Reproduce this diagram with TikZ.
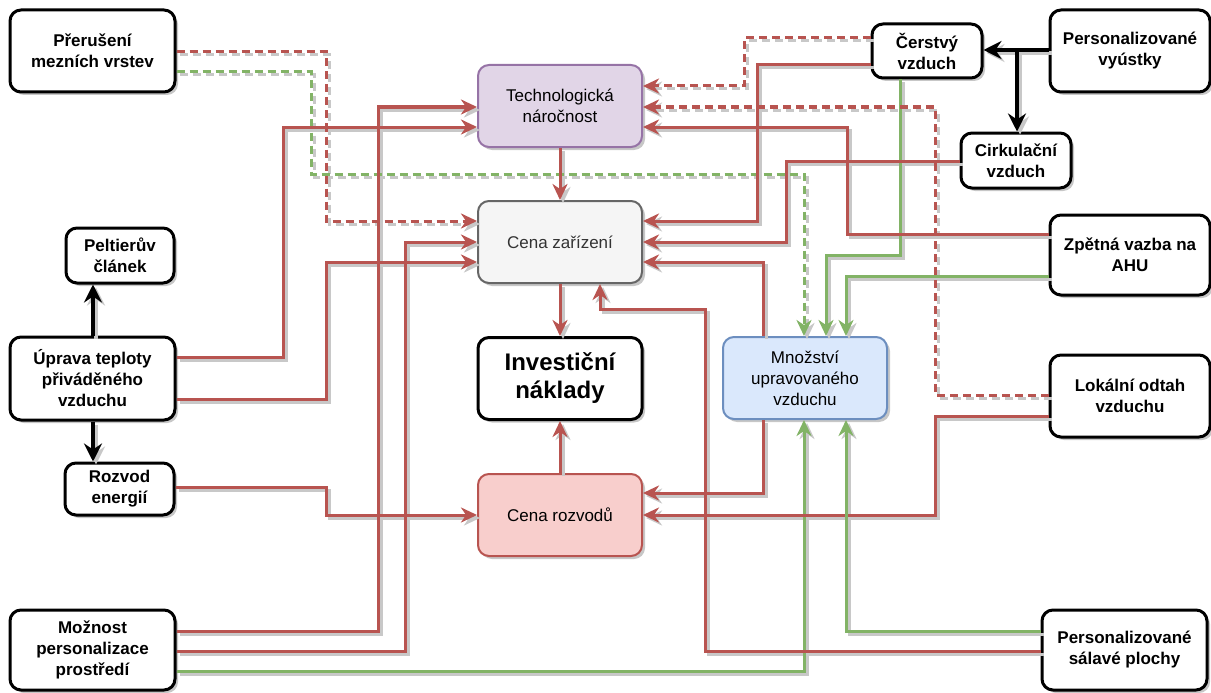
\documentclass[tikz,border=0pt]{standalone}
\usepackage{fontspec}
\setmainfont{Liberation Sans}
\usetikzlibrary{arrows.meta,shadows}
\definecolor{redE}{HTML}{B85450}
\definecolor{greenE}{HTML}{82B366}
\definecolor{purF}{HTML}{E1D5E7}
\definecolor{purD}{HTML}{9673A6}
\definecolor{greyF}{HTML}{F5F5F5}
\definecolor{greyD}{HTML}{666666}
\definecolor{greyT}{HTML}{333333}
\definecolor{redF}{HTML}{F8CECC}
\definecolor{bluF}{HTML}{DAE8FC}
\definecolor{bluD}{HTML}{6C8EBF}
\definecolor{shadowC}{HTML}{C8C8C8}
\tikzset{
  x=1pt, y=-1pt,
  shd/.style={drop shadow={shadow xshift=3pt, shadow yshift=-3pt, fill=black, opacity=0.22}},
  obox/.style={draw=black, line width=3pt, rounded corners=11pt, fill=white, align=center,
    inner sep=0pt, font=\bfseries\fontsize{17}{21}\selectfont, shd},
  cbox/.style={line width=2pt, rounded corners=11pt, align=center, inner sep=0pt,
    minimum width=164pt, minimum height=82pt, font=\fontsize{17}{21}\selectfont, shd},
  tipR/.style={-{Stealth[length=16pt,width=15pt,inset=5pt]}},
  tipB/.style={-{Stealth[length=18pt,width=18pt,inset=6pt]}},
  rl/.style={draw=redE, line width=3pt, tipR},
  gl/.style={draw=greenE, line width=3pt, tipR},
  bl/.style={draw=black, line width=3.6pt, tipB},
  dsh/.style={dash pattern=on 8pt off 5pt},
}
\begin{document}
\begin{tikzpicture}
\useasboundingbox (0,0) rectangle (1211,693);
% outer nodes
\node[obox, minimum width=165pt, minimum height=82pt] (prer) at (92.5,51) {Přerušení\\mezních vrstev};
\node[obox, minimum width=108pt, minimum height=55pt] (pelt) at (120,255.5) {Peltierův\\článek};
\node[obox, minimum width=165pt, minimum height=83pt] (upr) at (92.5,378.5) {Úprava teploty\\přiváděného\\vzduchu};
\node[obox, minimum width=109pt, minimum height=52pt] (rozv) at (119.5,489) {Rozvod\\energií};
\node[obox, minimum width=165pt, minimum height=80pt] (mozn) at (92.5,650) {Možnost\\personalizace\\prostředí};
\node[obox, minimum width=110pt, minimum height=54pt] (cerst) at (927,51) {Čerstvý\\vzduch};
\node[obox, minimum width=160pt, minimum height=82pt] (vyust) at (1130,51) {Personalizované\\vyústky};
\node[obox, minimum width=110pt, minimum height=55pt] (cirk) at (1016,160.5) {Cirkulační\\vzduch};
\node[obox, minimum width=160pt, minimum height=80pt] (zpet) at (1130,255) {Zpětná vazba na\\AHU};
\node[obox, minimum width=160pt, minimum height=82pt] (lok) at (1130,396) {Lokální odtah\\vzduchu};
\node[obox, minimum width=165pt, minimum height=80pt] (psal) at (1124.5,650) {Personalizované\\sálavé plochy};
% centre nodes
\node[cbox, draw=purD, fill=purF] (tech) at (560,106) {Technologická\\náročnost};
\node[cbox, draw=greyD, fill=greyF, text=greyT] (cenaz) at (560,242) {Cena zařízení};
\node[cbox, draw=black, line width=3pt, fill=white, font=\bfseries\fontsize{24}{28}\selectfont] (inv) at (560,378.5) {Investiční\\náklady};
\node[cbox, draw=redE, fill=redF] (cenar) at (560,515) {Cena rozvodů};
\node[cbox, draw=bluD, fill=bluF] (mnoz) at (805,378) {Množství\\upravovaného\\vzduchu};
\coordinate (br) at (1017,50);
\def\alledges{%
  \draw[rl,dsh] (prer.east |- 0,52) -- (326,52) -- (326,221) -- (cenaz.west |- 0,221);
  \draw[gl,dsh] (prer.east |- 0,72) -- (311,72) -- (311,174) -- (804,174) -- (mnoz.north -| 804,0);
  \draw[rl] (upr.east |- 0,357) -- (283,357) -- (283,127) -- (tech.west |- 0,127);
  \draw[rl] (upr.east |- 0,399) -- (326,399) -- (326,262) -- (cenaz.west |- 0,262);
  \draw[rl] (mozn.east |- 0,631) -- (378,631) -- (378,107) -- (tech.west |- 0,107);
  \draw[rl] (mozn.east |- 0,651) -- (405,651) -- (405,242) -- (cenaz.west |- 0,242);
  \draw[gl] (mozn.east |- 0,671) -- (804,671) -- (mnoz.south -| 804,0);
  \draw[rl] (rozv.east |- 0,487) -- (326,487) -- (326,515) -- (cenar.west |- 0,515);
  \draw[bl] (upr.north -| 93,0) -- (pelt.south -| 93,0);
  \draw[bl] (upr.south -| 93,0) -- (rozv.north -| 93,0);
  \draw[rl] (tech.south) -- (cenaz.north);
  \draw[rl] (cenaz.south) -- (inv.north);
  \draw[rl] (cenar.north) -- (inv.south);
  \draw[rl,dsh] (cerst.west |- 0,38) -- (744,38) -- (744,86) -- (tech.east |- 0,86);
  \draw[rl] (cerst.west |- 0,65) -- (757,65) -- (757,221) -- (cenaz.east |- 0,221);
  \draw[gl] (cerst.south -| 900,0) -- (900,255) -- (826,255) -- (mnoz.north -| 826,0);
  \draw[bl] (vyust.west |- br) -- (cerst.east |- br);
  \draw[bl] (vyust.west |- br) -- (br) -- (cirk.north -| br);
  \draw[rl] (cirk.west |- 0,161) -- (786,161) -- (786,242) -- (cenaz.east |- 0,242);
  \draw[rl,dsh] (lok.west |- 0,395) -- (935,395) -- (935,107) -- (tech.east |- 0,107);
  \draw[rl] (zpet.west |- 0,234) -- (847,234) -- (847,127) -- (tech.east |- 0,127);
  \draw[gl] (zpet.west |- 0,276) -- (846,276) -- (mnoz.north -| 846,0);
  \draw[rl] (mnoz.north -| 763,0) -- (763,262) -- (cenaz.east |- 0,262);
  \draw[rl] (psal.west |- 0,651) -- (705,651) -- (705,309) -- (600,309) -- (cenaz.south -| 600,0);
  \draw[rl] (mnoz.south -| 763,0) -- (763,493) -- (cenar.east |- 0,493);
  \draw[rl] (lok.west |- 0,416) -- (935,416) -- (935,515) -- (cenar.east |- 0,515);
  \draw[gl] (psal.west |- 0,631) -- (846,631) -- (mnoz.south -| 846,0);
}
\begin{scope}[transform canvas={shift={(3pt,-3pt)}},
  rl/.style={draw=shadowC, line width=3pt, tipR},
  gl/.style={draw=shadowC, line width=3pt, tipR},
  bl/.style={draw=shadowC, line width=3.6pt, tipB}]
\alledges
\end{scope}
\alledges
\end{tikzpicture}
\end{document}
